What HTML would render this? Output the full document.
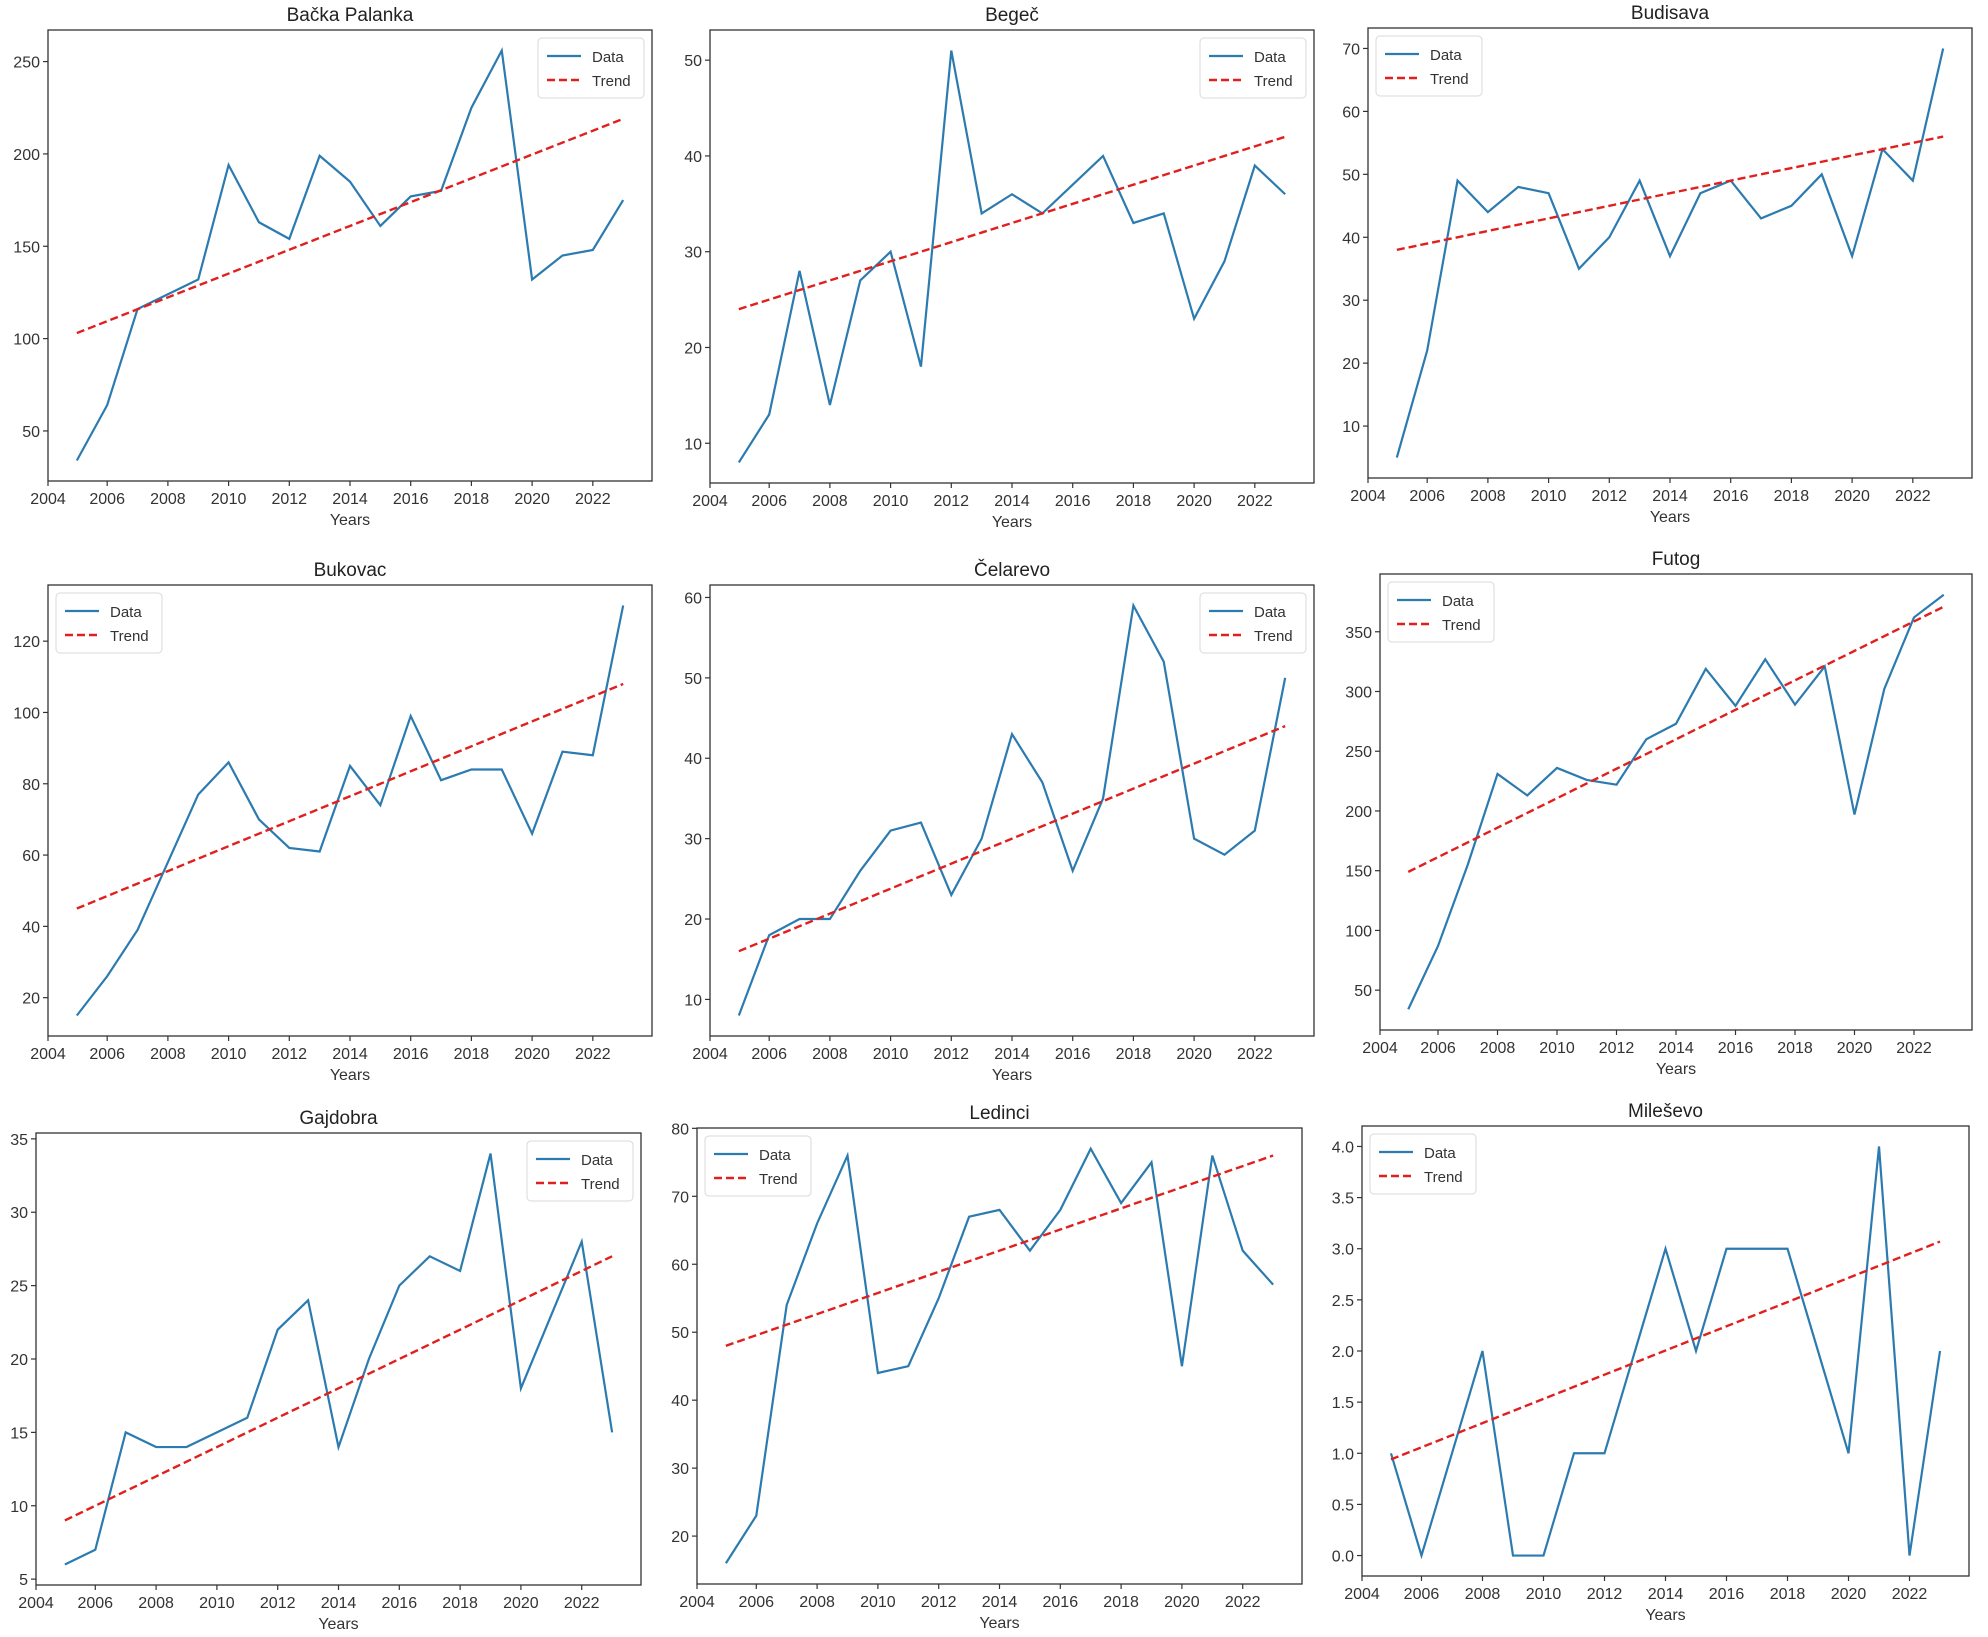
<!DOCTYPE html>
<html><head><meta charset="utf-8">
<style>
html,body{margin:0;padding:0;background:#fff;}
svg{display:block;font-family:"Liberation Sans","DejaVu Sans",sans-serif;}
</style></head>
<body>
<svg id="fig" width="1988" height="1637" viewBox="0 0 1988 1637" xmlns="http://www.w3.org/2000/svg"></svg>
<script>
const years = [2005,2006,2007,2008,2009,2010,2011,2012,2013,2014,2015,2016,2017,2018,2019,2020,2021,2022,2023];
const xTicks = [2004,2006,2008,2010,2012,2014,2016,2018,2020,2022];
const titles = ["Bačka Palanka","Begeč","Budisava","Bukovac","Čelarevo","Futog","Gajdobra","Ledinci","Mileševo"];
const dataBackaPalanka = [34,64,116,124,132,194,163,154,199,185,161,177,180,225,256,132,145,148,175];
const dataBegec = [8,13,28,14,27,30,18,51,34,36,34,37,40,33,34,23,29,39,36];
const dataBudisava = [5,22,49,44,48,47,35,40,49,37,47,49,43,45,50,37,54,49,70];
const dataBukovac = [15,26,39,58,77,86,70,62,61,85,74,99,81,84,84,66,89,88,130];
const dataCelarevo = [8,18,20,20,26,31,32,23,30,43,37,26,35,59,52,30,28,31,50];
const dataFutog = [34,87,155,231,213,236,226,222,260,273,319,288,327,289,321,197,302,362,381];
const dataGajdobra = [6,7,15,14,14,15,16,22,24,14,20,25,27,26,34,18,23,28,15];
const dataLedinci = [16,23,54,66,76,44,45,55,67,68,62,68,77,69,75,45,76,62,57];
const dataMilesevo = [1,0,1,2,0,0,1,1,2,3,2,3,3,3,2,1,4,0,2];
const trendStart = [103,24,38,45,16,149,9,48,0.94];
const trendEnd = [219,42,56,108,44,371,27,76,3.07];
const yTicks = [
  [50,100,150,200,250],
  [10,20,30,40,50],
  [10,20,30,40,50,60,70],
  [20,40,60,80,100,120],
  [10,20,30,40,50,60],
  [50,100,150,200,250,300,350],
  [5,10,15,20,25,30,35],
  [20,30,40,50,60,70,80],
  [0,0.5,1,1.5,2,2.5,3,3.5,4]
];
const allData = [dataBackaPalanka,dataBegec,dataBudisava,dataBukovac,dataCelarevo,dataFutog,dataGajdobra,dataLedinci,dataMilesevo];
const rects = [
  [48,652,30,481],[710,1314,30,483],[1368,1972,28,478],
  [48,652,585,1036],[710,1314,585,1036],[1380,1972,574,1030],
  [36,641,1133,1585],[697,1302,1128,1584],[1362,1969,1126,1576]
];
const legendRight = [true,true,false,false,true,false,true,false,false];
const names = ["backa-palanka","begec","budisava","bukovac","celarevo","futog","gajdobra","ledinci","milesevo"];

const NS="http://www.w3.org/2000/svg";
const fig=document.getElementById('fig');
function mk(tag,attrs,parent){const e=document.createElementNS(NS,tag);for(const k in attrs)e.setAttribute(k,attrs[k]);parent.appendChild(e);return e;}

for(let p=0;p<9;p++){
  const [L,R,T,B]=rects[p];
  const data=allData[p];
  const g=mk('g',{},fig);
  
  
  const trend=years.map((y,i)=>trendStart[p]+(trendEnd[p]-trendStart[p])*i/(years.length-1));
  const all=data.concat(trend);
  const mn=Math.min(...all), mxv=Math.max(...all), pad=(mxv-mn)*0.05;
  const y0=mn-pad, y1=mxv+pad;
  const x0=2004.05, x1=2023.95;
  const sx=v=>L+(v-x0)/(x1-x0)*(R-L);
  const sy=v=>B-(v-y0)/(y1-y0)*(B-T);
  const t=mk('text',{x:(L+R)/2,y:T-9,'text-anchor':'middle','font-size':19,fill:'#222'},g);
  t.textContent=titles[p];
  
  
  xTicks.forEach(v=>{
    const x=Math.max(sx(v),L);
    mk('line',{x1:x,x2:x,y1:B,y2:B+5,stroke:'#333','stroke-width':1.2},g);
    const tl=mk('text',{x:x,y:B+23,'text-anchor':'middle','font-size':16,fill:'#333'},g);
    tl.textContent=v;
    
    
  });
  const xl=mk('text',{x:(L+R)/2,y:B+44,'text-anchor':'middle','font-size':16,fill:'#333'},g);
  xl.textContent='Years';
  
  
  yTicks[p].forEach(v=>{
    const y=sy(v);
    mk('line',{x1:L-5,x2:L,y1:y,y2:y,stroke:'#333','stroke-width':1.2},g);
    const tl=mk('text',{x:L-8,y:y+6,'text-anchor':'end','font-size':16,fill:'#333'},g);
    tl.textContent=(p===8)?v.toFixed(1):v;
    
    
  });
  const dl=mk('polyline',{points:years.map((y,i)=>sx(y)+','+sy(data[i])).join(' '),fill:'none',stroke:'#2c7bb0','stroke-width':2.2,'stroke-linejoin':'miter'},g);
  
  
  const tr=mk('polyline',{points:years.map((y,i)=>sx(y)+','+sy(trend[i])).join(' '),fill:'none',stroke:'#e0201e','stroke-width':2.4,'stroke-dasharray':'8,4'},g);
  
  
  mk('rect',{x:L,y:T,width:R-L,height:B-T,fill:'none',stroke:'#333','stroke-width':1.3},g);
  const lw=106, lh=60;
  const lx=legendRight[p]?R-lw-8:L+8, ly=T+8;
  const lg=mk('g',{},g);
  
  
  mk('rect',{x:lx,y:ly,width:lw,height:lh,rx:4,fill:'#fff',stroke:'#d8d8d8','stroke-width':1},lg);
  mk('line',{x1:lx+9,x2:lx+43,y1:ly+18,y2:ly+18,stroke:'#2c7bb0','stroke-width':2.2},lg);
  const d=mk('text',{x:lx+54,y:ly+24,'font-size':15,fill:'#333'},lg);
  d.textContent='Data';
  
  
  mk('line',{x1:lx+9,x2:lx+43,y1:ly+42,y2:ly+42,stroke:'#e0201e','stroke-width':2.4,'stroke-dasharray':'8,4'},lg);
  const tt=mk('text',{x:lx+54,y:ly+48,'font-size':15,fill:'#333'},lg);
  tt.textContent='Trend';
  
  
}
</script>
</body></html>
